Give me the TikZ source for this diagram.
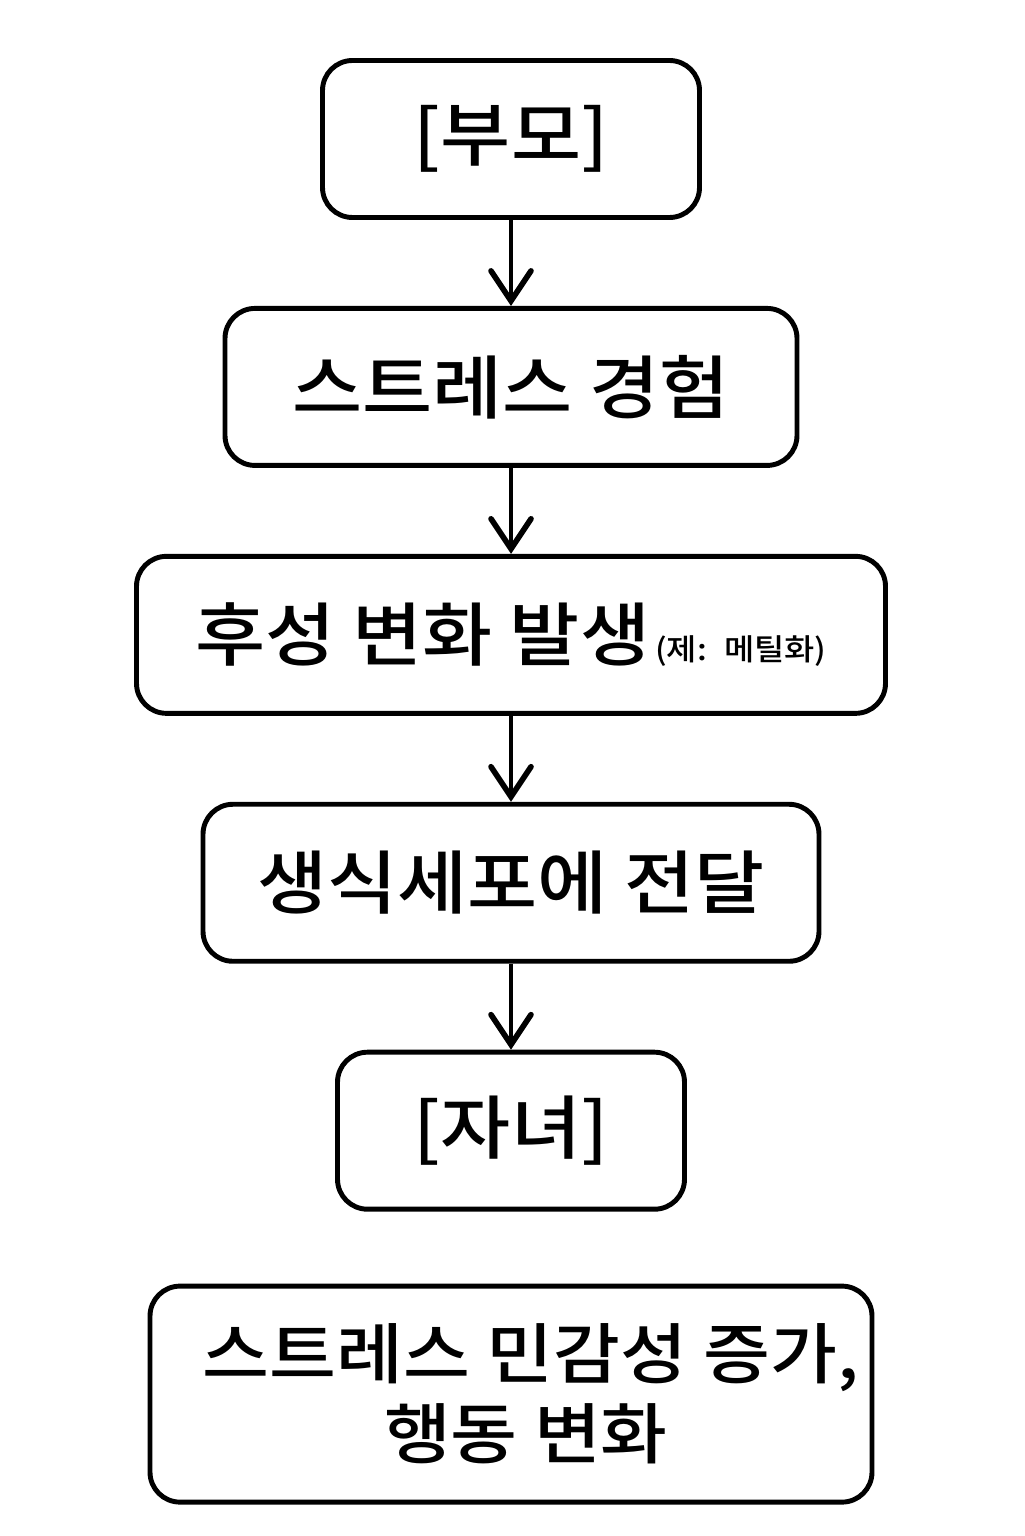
\documentclass[tikz,border=0pt]{standalone}
\usepackage{fontspec}
\newfontfamily\korfont{Noto Sans CJK KR Medium}[FakeStretch=1.1]
\usetikzlibrary{arrows.meta}
\usetikzlibrary{positioning}

\begin{document}
\begin{tikzpicture}
      \tikzset{
        >={Straight Barb[length=0.3cm, width=0.4cm, line width=1.6pt, line cap=round]},
        node distance=0.86cm,
        stagebox/.style={draw, line width=1.4pt, rounded corners=0.3cm,
          minimum height=1.57cm, align=center, inner sep=0pt,
          font=\korfont\fontsize{19.7pt}{22.8pt}\selectfont},
        flow/.style={->, line width=1.3pt},
      }
      \useasboundingbox (0,0) rectangle (10.24,-15.36);
      \node[stagebox, minimum width=3.77cm] (parent) at (5.11,-1.39) {[부모]};
      \node[stagebox, minimum width=5.72cm, below=of parent] (stress) {스트레스 경험};
      \node[stagebox, minimum width=7.49cm, below=of stress] (epi)
        {후성 변화 발생\hspace{0.05cm}{\fontsize{8.5pt}{9pt}\selectfont(제:~ 메틸화)}};
      \node[stagebox, minimum width=6.16cm, below=of epi] (germ) {생식세포에 전달};
      \node[stagebox, minimum width=3.47cm, below=of germ] (child) {[자녀]};
      \node[stagebox, minimum width=7.22cm, minimum height=2.16cm,
        font=\korfont\fontsize{18.8pt}{22.8pt}\selectfont,
        below=0.72cm of child] (result) {\hspace*{0.4cm}스트레스 민감성 증가,\\ \hspace*{0.3cm}행동 변화};

      \draw[flow] (parent) -- (stress);
      \draw[flow] (stress) -- (epi);
      \draw[flow] (epi) -- (germ);
      \draw[flow] (germ) -- (child);
\end{tikzpicture}
\end{document}
